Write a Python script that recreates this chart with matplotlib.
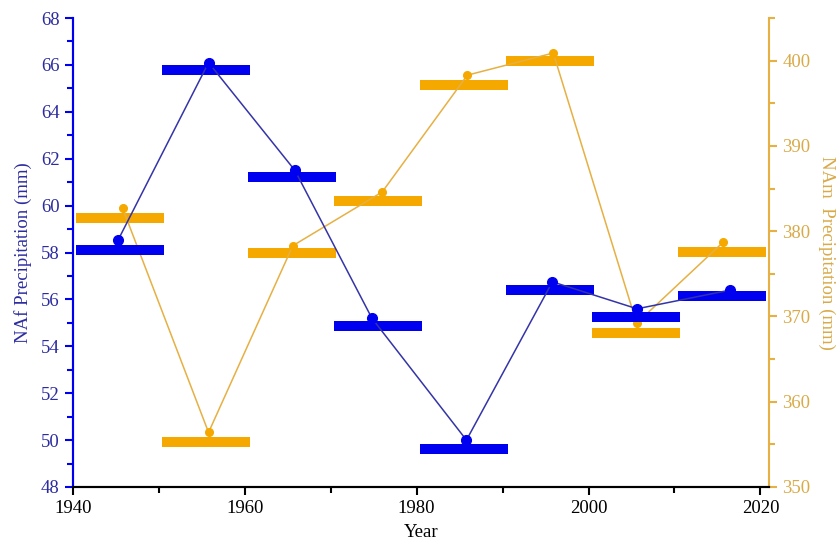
import numpy as np
import matplotlib
matplotlib.use("Agg")
import matplotlib.pyplot as plt
from matplotlib.ticker import MultipleLocator

plt.rcParams['font.family'] = ['Liberation Serif', 'DejaVu Serif']

# decade-mean bars (centre year, value)
bar_years = [1945.5, 1955.5, 1965.5, 1975.5, 1985.5, 1995.5, 2005.5, 2015.5]
naf_bars = [58.1, 65.8, 61.2, 54.85, 49.6, 56.4, 55.25, 56.15]
nam_bars = [381.5, 355.3, 377.4, 383.6, 397.2, 400.0, 368.1, 377.6]

# point series
naf_years = [1945.3, 1955.8, 1965.85, 1974.8, 1985.8, 1995.8, 2005.65, 2016.5]
naf_vals = [58.55, 66.1, 61.5, 55.2, 50.0, 56.75, 55.6, 56.4]
nam_years = [1945.8, 1955.8, 1965.6, 1976.0, 1985.9, 1995.9, 2005.6, 2015.65]
nam_vals = [382.7, 356.4, 378.3, 384.6, 398.3, 400.9, 369.2, 378.7]

blue = '#0000F0'
blue_line = '#3434A8'
blue_text = '#2C2CA0'
orange = '#F5A800'
orange_line = '#E6B043'
orange_text = '#D9AA48'

fig = plt.figure(figsize=(8.37, 5.47), dpi=100)
ax = fig.add_axes([0.0869, 0.1097, 0.8319, 0.8573])
ax2 = ax.twinx()
ax.set_zorder(ax2.get_zorder() + 1)
ax.patch.set_visible(False)

half = 5.1
ax2.hlines(nam_bars, np.array(bar_years) - half, np.array(bar_years) + half,
           colors=orange, linewidth=7.2, capstyle='butt')
ax2.plot(nam_years, nam_vals, color=orange_line, linewidth=1.1,
         marker='o', markersize=5.5, markerfacecolor=orange, markeredgecolor=orange)

ax.hlines(naf_bars, np.array(bar_years) - half, np.array(bar_years) + half,
          colors=blue, linewidth=7.2, capstyle='butt')
ax.plot(naf_years, naf_vals, color=blue_line, linewidth=1.1,
        marker='o', markersize=7, markerfacecolor=blue, markeredgecolor=blue)

ax.set_xlim(1940, 2021)
ax.set_ylim(48, 68)
ax2.set_ylim(350, 405)

ax.xaxis.set_major_locator(MultipleLocator(20))
ax.xaxis.set_minor_locator(MultipleLocator(10))
ax.yaxis.set_major_locator(MultipleLocator(2))
ax.yaxis.set_minor_locator(MultipleLocator(1))
ax2.yaxis.set_major_locator(MultipleLocator(10))
ax2.yaxis.set_minor_locator(MultipleLocator(5))

fs = 13.5
ax.tick_params(axis='x', which='major', length=6, width=1.5, labelsize=fs, colors='black')
ax.tick_params(axis='x', which='minor', length=4, width=1.5, colors='black')
ax.tick_params(axis='y', which='major', length=6, width=1.5, labelsize=fs,
               colors=blue, labelcolor=blue_text)
ax.tick_params(axis='y', which='minor', length=4, width=1.5, colors=blue)
ax2.tick_params(axis='y', which='major', length=6, width=1.5, labelsize=fs,
                colors=orange_line, labelcolor=orange_text)
ax2.tick_params(axis='y', which='minor', length=4, width=1.5, colors=orange_line)

for a in (ax, ax2):
    a.spines['top'].set_visible(False)
    a.spines['bottom'].set_linewidth(1.5)
    a.spines['left'].set_linewidth(1.5)
    a.spines['right'].set_linewidth(1.5)
ax.spines['left'].set_color(blue)
ax2.spines['left'].set_color(blue)
ax2.spines['right'].set_color(orange_line)
ax.spines['right'].set_visible(False)

ax.set_xlabel('Year', fontsize=fs, labelpad=5)
ax.set_ylabel('NAf Precipitation (mm)', fontsize=fs, color=blue_text, labelpad=6)
ax2.set_ylabel('NAm  Precipitation (mm)', fontsize=fs, color=orange_text,
               rotation=-90, labelpad=18)

fig.savefig('out.png', dpi=100)
